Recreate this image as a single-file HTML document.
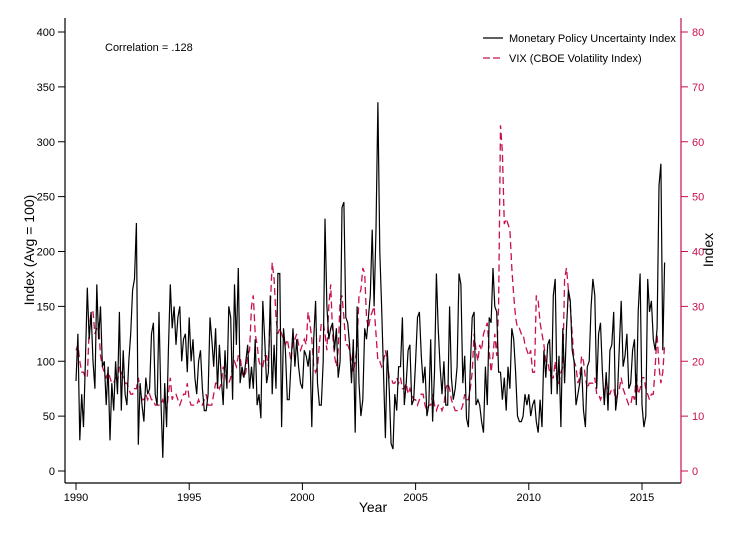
<!DOCTYPE html>
<html><head><meta charset="utf-8"><style>
body{margin:0;background:#fff;}
svg{display:block;font-family:"Liberation Sans",sans-serif;}
</style></head><body>
<svg id="c" width="739" height="538"></svg>
<script>
const startYear = 1990;
const mpu = [82,125,28,70,40,100,167,120,145,100,75,170,
120,150,95,100,60,95,28,80,55,100,70,145,
55,110,70,60,100,125,165,175,226,24,80,60,
45,85,70,75,125,135,70,60,145,65,12,80,
40,110,170,130,150,115,140,150,100,120,125,90,
140,100,120,85,70,100,110,75,55,55,70,140,
120,95,130,75,115,85,60,110,75,150,140,65,
170,115,185,80,95,85,100,115,75,95,75,120,
60,70,48,155,120,80,90,160,70,115,75,180,
180,40,130,110,65,65,100,130,95,120,95,80,
75,110,105,95,110,40,120,155,80,60,60,100,
230,150,120,130,135,110,130,85,100,240,245,140,
135,115,80,120,35,150,80,50,65,130,120,140,
160,220,150,220,336,200,150,90,30,110,75,25,
20,70,55,95,95,140,60,80,110,115,60,65,
100,140,145,105,80,95,50,60,120,45,90,180,
130,95,70,100,60,60,150,85,65,75,95,180,
170,80,105,48,40,95,140,145,60,65,60,45,
35,95,60,140,135,185,150,145,90,90,65,85,
55,95,75,130,120,90,50,45,45,50,70,60,
70,50,60,65,45,35,65,40,110,85,115,120,
70,160,175,70,105,40,130,80,130,165,155,110,
100,60,70,80,95,55,40,95,100,150,175,160,
75,125,135,90,60,90,55,110,115,145,55,70,
115,155,95,105,125,75,80,110,120,60,145,180,
60,40,50,175,145,155,120,110,130,260,280,110,
190];
const vix = [22,23,20,18,18,17,17,26,29,29,25,26,
27,21,19,18,17,18,17,16,16,17,16,19,
18,17,16,16,15,14,14,15,15,17,15,13,
13,14,13,14,13,13,12,12,12,12,13,12,
11,14,17,13,14,14,13,12,13,14,14,16,
13,12,12,12,12,13,12,12,13,14,12,12,
12,14,16,16,15,16,19,18,16,16,17,19,
20,19,21,21,18,17,18,21,22,30,32,25,
23,20,19,19,21,21,19,30,38,35,28,25,
26,25,24,23,24,22,20,24,24,25,23,22,
23,24,23,29,27,24,19,18,19,23,27,27,
25,22,30,34,25,21,19,22,31,32,28,23,
23,22,20,18,20,23,32,33,37,36,28,26,
28,29,30,25,20,20,19,20,22,20,17,17,
16,16,17,16,17,15,15,16,14,15,14,13,
13,12,13,14,14,12,11,12,12,14,12,11,
12,12,11,12,15,16,15,13,12,11,11,11,
11,12,14,13,13,15,18,25,22,20,23,22,
25,26,27,22,18,21,25,21,30,63,58,45,
46,45,44,37,32,28,26,26,25,25,23,22,
21,22,18,18,32,31,27,25,23,20,20,18,
17,17,20,16,16,18,19,35,37,33,30,25,
20,19,16,17,21,20,17,15,16,16,16,17,
14,14,13,14,14,17,14,14,15,15,13,14,
15,17,15,14,13,12,12,14,13,18,14,15,
17,17,15,14,13,14,14,19,25,19,16,18,
23];
const leftTicks = [0,50,100,150,200,250,300,350,400];
const rightTicks = [0,10,20,30,40,50,60,70,80];
const yearTicks = [1990,1995,2000,2005,2010,2015];

const NS="http://www.w3.org/2000/svg", svg=document.getElementById('c');
const RED="#c8104a";
const xs = t => 76 + (t-1990)*22.64;
const yl = v => 471 - v*1.0975;
const yr = v => 471 - v*5.4875;
function mk(tag, at, txt){const e=document.createElementNS(NS,tag);for(const k in at)e.setAttribute(k,at[k]);if(txt!=null)e.textContent=txt;svg.appendChild(e);return e;}

let e;
e=mk('line',{x1:65,y1:18,x2:65,y2:483,stroke:'#000','stroke-width':1.2});


e=mk('line',{x1:65,y1:483,x2:681,y2:483,stroke:'#000','stroke-width':1.2});


e=mk('line',{x1:681,y1:18,x2:681,y2:483,stroke:RED,'stroke-width':1.2});



leftTicks.forEach(v=>{
  e=mk('line',{x1:58,y1:yl(v),x2:65,y2:yl(v),stroke:'#000'});
  
  
  e=mk('text',{x:55,y:yl(v)+4,'text-anchor':'end','font-size':11},v);
  
  
});
rightTicks.forEach(v=>{
  e=mk('line',{x1:681,y1:yr(v),x2:688,y2:yr(v),stroke:RED});
  
  
  e=mk('text',{x:692,y:yr(v)+4,'font-size':11,fill:RED},v);
  
  
});
yearTicks.forEach(v=>{
  e=mk('line',{x1:xs(v),y1:483,x2:xs(v),y2:490,stroke:'#000'});
  
  
  e=mk('text',{x:xs(v),y:501,'text-anchor':'middle','font-size':11},v);
  
  
});
e=mk('text',{x:373,y:512,'text-anchor':'middle','font-size':14},'Year');


e=mk('text',{x:0,y:0,'text-anchor':'middle','font-size':14,transform:'translate(34,250) rotate(-90)'},'Index (Avg = 100)');


e=mk('text',{x:0,y:0,'text-anchor':'middle','font-size':14,transform:'translate(713,250) rotate(-90)'},'Index');



let pv = vix.map((v,i)=>xs(startYear+i/12).toFixed(1)+','+yr(v).toFixed(1)).join(' ');
e=mk('polyline',{points:pv,fill:'none',stroke:RED,'stroke-width':1.3,'stroke-dasharray':'7,4'});


let pm = mpu.map((v,i)=>xs(startYear+i/12).toFixed(1)+','+yl(v).toFixed(1)).join(' ');
e=mk('polyline',{points:pm,fill:'none',stroke:'#000','stroke-width':1.2});



e=mk('text',{x:105,y:51,'font-size':11},'Correlation = .128');


e=mk('line',{x1:483,y1:38,x2:503,y2:38,stroke:'#000','stroke-width':1.2});


e=mk('text',{x:509,y:42,'font-size':11},'Monetary Policy Uncertainty Index');


e=mk('line',{x1:483,y1:58,x2:503,y2:58,stroke:RED,'stroke-width':1.3,'stroke-dasharray':'7,3'});


e=mk('text',{x:509,y:62,'font-size':11},'VIX (CBOE Volatility Index)');


</script>
</body></html>
